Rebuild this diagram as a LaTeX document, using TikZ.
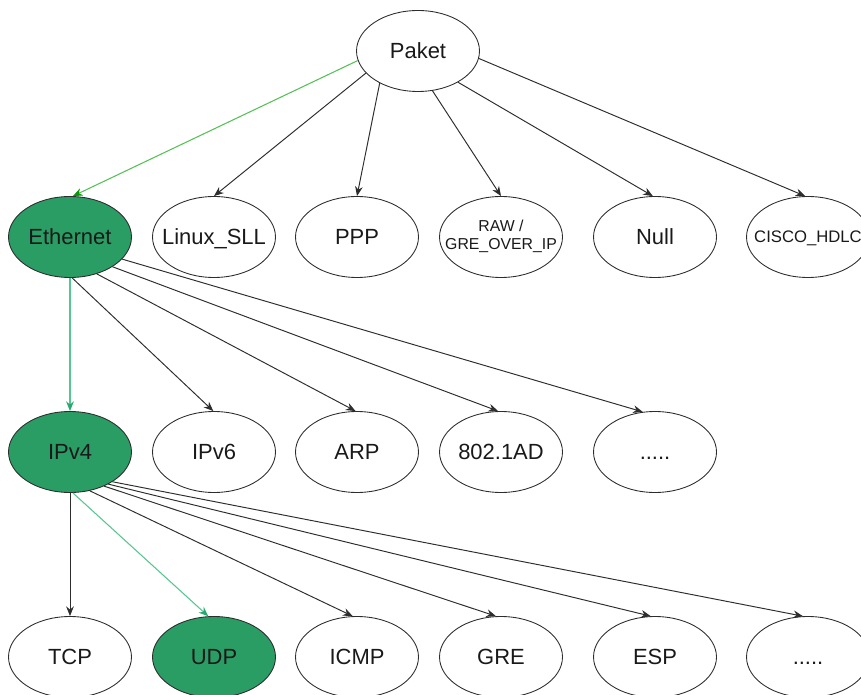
\documentclass[tikz,border=0pt]{standalone}
\usepackage{fontspec}
\setmainfont{Liberation Sans}
\usetikzlibrary{shapes.geometric,arrows.meta}
\definecolor{nodefill}{RGB}{42,157,100}
\definecolor{linegray}{RGB}{45,45,45}
\definecolor{pathgreen}{RGB}{85,192,85}
\definecolor{pathgreentip}{RGB}{10,150,10}
\definecolor{tealgreen}{RGB}{85,198,145}
\definecolor{tealgreentip}{RGB}{40,170,110}
% single-line label with a fixed line box, so every label sits on the same baseline
\newcommand{\ovaltext}[1]{\makebox[0pt]{\strut\raisebox{-1.2pt}{#1}}}
\begin{document}
\begin{tikzpicture}[x=0.02cm,y=-0.02cm,
  oval/.style={ellipse, draw=linegray, line width=0.5pt, minimum width=2.46cm,
    minimum height=1.62cm, inner sep=0pt, text=black!90,
    font=\fontsize{12.5}{15}\selectfont},
  sel/.style={oval, fill=nodefill},
  small/.style={font=\fontsize{9}{10.2}\selectfont},
  smallwide/.style={font=\fontsize{9.5}{11}\selectfont},
  link/.style={draw=linegray, line width=0.55pt,
    -{Stealth[length=5.5pt,width=4.4pt]}},
  greenlink/.style={draw=pathgreen, line width=0.6pt,
    -{Stealth[length=5.5pt,width=4.4pt,color=pathgreentip]}},
  teallink/.style={draw=tealgreen, line width=0.6pt,
    -{Stealth[length=5.5pt,width=4.4pt,color=tealgreentip]}}]
\useasboundingbox (0,0) rectangle (861,695);

% root
\node[oval] (paket) at (418,51) {\ovaltext{Paket}};

% link layer
\node[sel]  (eth)   at (70,237)  {\ovaltext{Ethernet}};
\node[oval] (linux) at (214,237) {\ovaltext{Linux\_SLL}};
\node[oval] (ppp)   at (357,237) {\ovaltext{PPP}};
\node[oval,small] (raw) at (501,237)
  {\makebox[0pt]{\begin{tabular}{@{}c@{}}RAW /\\GRE\_OVER\_IP\end{tabular}}};
\node[oval] (null)  at (655,237) {\ovaltext{Null}};
\node[oval,smallwide] (cisco) at (808,237) {\ovaltext{CISCO\_HDLC}};

% network layer
\node[sel]  (ipv4)  at (70,452)  {\ovaltext{IPv4}};
\node[oval] (ipv6)  at (214,452) {\ovaltext{IPv6}};
\node[oval] (arp)   at (357,452) {\ovaltext{ARP}};
\node[oval] (qinq)  at (501,452) {\ovaltext{802.1AD}};
\node[oval] (netmore) at (655,452) {\ovaltext{.....}};

% transport layer
\node[oval] (tcp)   at (70,657)  {\ovaltext{TCP}};
\node[sel]  (udp)   at (214,657) {\ovaltext{UDP}};
\node[oval] (icmp)  at (357,657) {\ovaltext{ICMP}};
\node[oval] (gre)   at (501,657) {\ovaltext{GRE}};
\node[oval] (esp)   at (655,657) {\ovaltext{ESP}};
\node[oval] (tpmore) at (808,657) {\ovaltext{.....}};

% root to link layer
\draw[greenlink] (paket.189) -- (eth.86);
\draw[link] (paket.203) -- (linux.north);
\draw[link] (paket.220) -- (ppp.north);
\draw[link] (paket.290) -- (raw.north);
\draw[link] (paket.322) -- (null.93);
\draw[link] (paket.353) -- (cisco.94);

% Ethernet to network layer
\draw[teallink] (eth.south) -- (ipv4.north);
\draw[link] (eth.273) -- (ipv6.91);
\draw[link] (eth.306) -- (arp.92);
\draw[link] (eth.325) -- (qinq.94);
\draw[link] (eth.337) -- (netmore.107);

% IPv4 to transport layer
\draw[link] (ipv4.south) -- (tcp.north);
\draw[teallink] (ipv4.274) -- (udp.98);
\draw[link] (ipv4.297) -- (icmp.96);
\draw[link] (ipv4.315) -- (gre.97);
\draw[link] (ipv4.320) -- (esp.96);
\draw[link] (ipv4.325) -- (tpmore.97);
\end{tikzpicture}
\end{document}
